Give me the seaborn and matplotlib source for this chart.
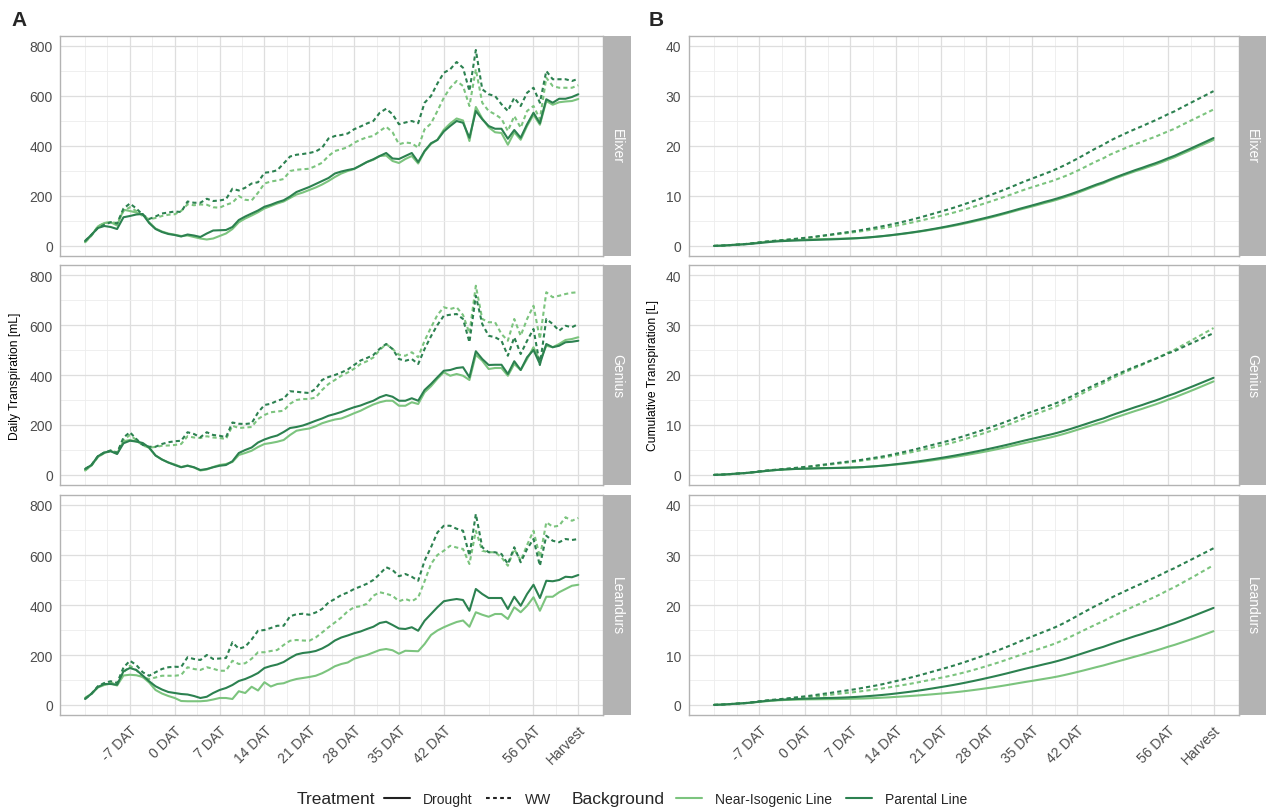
import numpy as np
import pandas as pd
import matplotlib
matplotlib.use("Agg")
import matplotlib.pyplot as plt
import seaborn as sns
from matplotlib.lines import Line2D
from matplotlib.ticker import FixedLocator

sns.set_theme(style="white")
plt.rcParams["font.family"] = ["Liberation Sans", "DejaVu Sans"]

# ---------------- data ----------------
days = list(range(-14, 64))
genotypes = ["Elixer", "Genius", "Leandurs"]
backgrounds = ["Near-Isogenic Line", "Parental Line"]
treatments = ["Drought", "WW"]
tick_days = [-7, 0, 7, 14, 21, 28, 35, 42, 56, 63]
tick_labels = ["-7 DAT", "0 DAT", "7 DAT", "14 DAT", "21 DAT", "28 DAT",
               "35 DAT", "42 DAT", "56 DAT", "Harvest"]
minor_days = [-14, -10.5, -3.5, 3.5, 10.5, 17.5, 24.5, 31.5, 38.5, 49, 59.5]

elixer_parental_drought = [
    20, 45, 72, 80, 76, 68, 115, 120, 126, 128,
    92, 68, 56, 48, 44, 38, 46, 42, 36, 50,
    62, 63, 64, 76, 104, 118, 130, 142, 157, 165,
    175, 183, 198, 216, 226, 236, 248, 260, 272, 290,
    298, 304, 309, 322, 336, 347, 360, 372, 350, 348,
    360, 372, 336, 380, 411, 424, 458, 480, 500, 493,
    433, 540, 507, 480, 469, 469, 429, 464, 433, 487,
    533, 491, 587, 573, 589, 589, 596, 607]
elixer_nil_drought = [
    15, 42, 78, 92, 95, 82, 145, 140, 134, 126,
    95, 70, 58, 50, 45, 40, 42, 36, 30, 26,
    30, 40, 50, 68, 95, 110, 122, 135, 150, 160,
    170, 178, 192, 206, 214, 224, 234, 246, 260, 276,
    290, 300, 308, 322, 336, 345, 360, 362, 340, 332,
    348, 360, 330, 378, 408, 425, 465, 490, 510, 502,
    420, 556, 510, 475, 455, 452, 405, 455, 425, 480,
    525, 485, 580, 565, 575, 578, 580, 588]
elixer_parental_ww = [
    20, 45, 72, 85, 95, 90, 150, 170, 150, 125,
    108, 118, 130, 134, 138, 136, 178, 173, 173, 189,
    180, 182, 187, 229, 222, 233, 250, 255, 293, 296,
    303, 330, 358, 365, 368, 372, 378, 393, 430, 440,
    444, 450, 467, 478, 490, 500, 533, 549, 527, 487,
    494, 500, 491, 573, 600, 650, 693, 707, 736, 713,
    620, 784, 627, 607, 600, 567, 540, 593, 560, 613,
    633, 573, 700, 667, 667, 667, 660, 669]
elixer_nil_ww = [
    15, 42, 78, 92, 95, 92, 140, 155, 140, 120,
    107, 112, 120, 125, 127, 140, 167, 163, 166, 165,
    155, 153, 165, 173, 200, 185, 182, 213, 250, 258,
    262, 268, 300, 305, 307, 309, 320, 333, 360, 380,
    387, 395, 413, 425, 435, 440, 460, 477, 455, 407,
    414, 411, 393, 467, 490, 540, 593, 633, 660, 640,
    560, 707, 573, 540, 527, 509, 460, 520, 473, 540,
    560, 507, 673, 640, 633, 633, 633, 643]

genius_parental_drought = [
    24, 40, 75, 90, 95, 84, 127, 137, 134, 128,
    110, 78, 62, 50, 40, 31, 37, 31, 20, 24,
    31, 37, 40, 55, 88, 100, 110, 130, 142, 151,
    158, 172, 188, 192, 198, 207, 217, 226, 237, 244,
    252, 262, 271, 278, 288, 297, 311, 320, 313, 297,
    297, 307, 297, 340, 364, 391, 417, 420, 428, 431,
    391, 495, 464, 440, 441, 441, 404, 455, 420, 471,
    500, 444, 524, 511, 517, 531, 533, 537]
genius_nil_drought = [
    18, 38, 72, 88, 96, 86, 135, 140, 134, 125,
    108, 78, 62, 50, 42, 32, 38, 30, 18, 22,
    32, 40, 44, 52, 80, 88, 97, 112, 124, 128,
    133, 140, 160, 177, 182, 186, 195, 207, 215, 222,
    226, 236, 247, 257, 270, 282, 291, 297, 297, 277,
    277, 291, 284, 331, 355, 385, 411, 397, 404, 397,
    380, 481, 457, 424, 428, 428, 397, 444, 420, 464,
    511, 457, 517, 511, 524, 540, 544, 551]
genius_parental_ww = [
    24, 40, 75, 90, 98, 88, 150, 171, 144, 120,
    113, 113, 124, 131, 135, 137, 171, 164, 151, 171,
    160, 157, 151, 210, 205, 204, 207, 250, 280, 285,
    297, 305, 335, 333, 330, 328, 345, 380, 392, 400,
    410, 422, 440, 458, 468, 480, 505, 524, 504, 464,
    457, 464, 444, 504, 555, 600, 637, 641, 644, 624,
    531, 717, 604, 557, 551, 537, 477, 551, 484, 537,
    584, 440, 624, 604, 577, 597, 591, 604]
genius_nil_ww = [
    18, 38, 72, 88, 98, 90, 140, 160, 140, 118,
    110, 112, 117, 118, 120, 124, 155, 150, 148, 155,
    150, 148, 144, 197, 188, 190, 192, 224, 240, 251,
    254, 257, 285, 300, 304, 304, 310, 340, 364, 380,
    397, 410, 425, 444, 455, 470, 500, 524, 504, 481,
    477, 491, 471, 537, 590, 640, 671, 664, 671, 640,
    567, 757, 624, 611, 611, 564, 537, 624, 557, 624,
    677, 544, 731, 711, 717, 724, 729, 731]

leandurs_parental_drought = [
    24, 45, 72, 84, 84, 81, 135, 148, 140, 118,
    95, 75, 62, 52, 48, 44, 42, 36, 28, 33,
    48, 60, 68, 80, 96, 104, 115, 128, 148, 156,
    162, 172, 188, 202, 208, 211, 216, 226, 240, 258,
    270, 278, 287, 294, 304, 313, 328, 333, 320, 306,
    304, 311, 297, 337, 364, 391, 415, 420, 424, 420,
    377, 464, 444, 428, 428, 428, 384, 433, 397, 444,
    481, 428, 497, 495, 500, 513, 511, 520]
leandurs_nil_drought = [
    28, 45, 70, 80, 86, 78, 118, 121, 119, 112,
    90, 60, 46, 36, 28, 16, 15, 15, 15, 17,
    22, 28, 28, 24, 55, 48, 73, 58, 91, 74,
    84, 87, 97, 104, 108, 112, 117, 127, 140, 155,
    164, 170, 185, 193, 200, 210, 220, 224, 219, 205,
    217, 216, 215, 244, 280, 298, 311, 322, 332, 338,
    313, 371, 361, 353, 364, 364, 344, 391, 371, 397,
    431, 377, 433, 433, 451, 464, 477, 481]
leandurs_parental_ww = [
    24, 45, 75, 88, 95, 88, 150, 177, 160, 131,
    117, 131, 144, 151, 153, 152, 191, 184, 180, 200,
    184, 186, 188, 251, 225, 233, 262, 297, 300, 308,
    317, 317, 355, 363, 365, 361, 370, 384, 410, 424,
    440, 450, 464, 474, 485, 500, 524, 551, 540, 515,
    524, 513, 497, 577, 631, 690, 717, 717, 705, 697,
    597, 764, 631, 611, 611, 604, 564, 631, 571, 624,
    664, 557, 677, 657, 651, 664, 660, 664]
leandurs_nil_ww = [
    28, 45, 72, 82, 90, 85, 130, 157, 140, 111,
    104, 110, 117, 117, 117, 120, 151, 144, 140, 151,
    145, 137, 137, 177, 164, 167, 185, 211, 211, 216,
    220, 240, 257, 260, 258, 257, 270, 290, 311, 330,
    350, 375, 391, 395, 405, 437, 451, 445, 437, 415,
    424, 415, 430, 495, 564, 600, 617, 637, 630, 624,
    564, 697, 617, 611, 611, 591, 557, 624, 577, 640,
    697, 591, 731, 713, 717, 751, 737, 748]

series = {
    ("Elixer", "Parental Line", "Drought"): elixer_parental_drought,
    ("Elixer", "Near-Isogenic Line", "Drought"): elixer_nil_drought,
    ("Elixer", "Parental Line", "WW"): elixer_parental_ww,
    ("Elixer", "Near-Isogenic Line", "WW"): elixer_nil_ww,
    ("Genius", "Parental Line", "Drought"): genius_parental_drought,
    ("Genius", "Near-Isogenic Line", "Drought"): genius_nil_drought,
    ("Genius", "Parental Line", "WW"): genius_parental_ww,
    ("Genius", "Near-Isogenic Line", "WW"): genius_nil_ww,
    ("Leandurs", "Parental Line", "Drought"): leandurs_parental_drought,
    ("Leandurs", "Near-Isogenic Line", "Drought"): leandurs_nil_drought,
    ("Leandurs", "Parental Line", "WW"): leandurs_parental_ww,
    ("Leandurs", "Near-Isogenic Line", "WW"): leandurs_nil_ww,
}

rows = []
for (g, b, t), vals in series.items():
    for d, v in zip(days, vals):
        rows.append((g, b, t, d, v))
df = pd.DataFrame(rows, columns=["Genotype", "Background", "Treatment", "Day", "Daily"])
df = df.sort_values(["Genotype", "Background", "Treatment", "Day"]).reset_index(drop=True)
df["Cumulative"] = df.groupby(["Genotype", "Background", "Treatment"])["Daily"].cumsum() / 1000.0

# ---------------- style ----------------
palette = {"Near-Isogenic Line": "#7CC47E", "Parental Line": "#2C8150"}
dash_map = {"Drought": "", "WW": (2.0, 1.5)}
W, H = 1266, 812
grey70 = "#B3B3B3"
tick_col = "#4D4D4D"

fig = plt.figure(figsize=(W / 100, H / 100), dpi=100, facecolor="white")

def px_rect(x0, y0, x1, y1):
    return [x0 / W, 1 - y1 / H, (x1 - x0) / W, (y1 - y0) / H]

row_px = [(37, 257), (266, 486), (496, 716)]
cols = [
    dict(panel=(60.4, 603), strip=(603, 630.5), var="Daily", ylim=(-40, 840),
         yt=[0, 200, 400, 600, 800], ym=[100, 300, 500, 700]),
    dict(panel=(689, 1238.5), strip=(1238.5, 1266), var="Cumulative", ylim=(-2, 42),
         yt=[0, 10, 20, 30, 40], ym=[5, 15, 25, 35]),
]

for ci, c in enumerate(cols):
    for ri, g in enumerate(genotypes):
        y0, y1 = row_px[ri]
        ax = fig.add_axes(px_rect(c["panel"][0], y0, c["panel"][1], y1))
        sub = df[df["Genotype"] == g]
        sns.lineplot(data=sub, x="Day", y=c["var"], hue="Background", style="Treatment",
                     hue_order=backgrounds, style_order=treatments, palette=palette,
                     dashes=dash_map, linewidth=1.5, estimator=None, legend=False, ax=ax)
        ax.set_xlim(-17.85, 66.85)
        ax.set_ylim(*c["ylim"])
        ax.xaxis.set_major_locator(FixedLocator(tick_days))
        ax.xaxis.set_minor_locator(FixedLocator(minor_days))
        ax.yaxis.set_major_locator(FixedLocator(c["yt"]))
        ax.yaxis.set_minor_locator(FixedLocator(c["ym"]))
        ax.grid(which="major", color="#DEDEDE", linewidth=0.9)
        ax.grid(which="minor", color="#EDEDED", linewidth=0.6)
        ax.set_axisbelow(True)
        ax.set_facecolor("white")
        for s in ax.spines.values():
            s.set_color(grey70)
            s.set_linewidth(1.0)
        ax.tick_params(which="major", length=3.5, width=0.8, color=grey70,
                       labelsize=10, labelcolor=tick_col, pad=2)
        ax.tick_params(which="minor", length=0)
        ax.set_yticklabels([str(v) for v in c["yt"]])
        ax.set_xlabel("")
        ax.set_ylabel("")
        if ri < 2:
            ax.tick_params(axis="x", which="major", bottom=False, labelbottom=False)
        else:
            ax.set_xticklabels(tick_labels, rotation=45, ha="right", va="top",
                               rotation_mode="anchor")
        # facet strip
        sax = fig.add_axes(px_rect(c["strip"][0], y0, c["strip"][1], y1))
        sax.set_facecolor(grey70)
        sax.set_xticks([])
        sax.set_yticks([])
        for s in sax.spines.values():
            s.set_visible(False)
        sax.text(0.5, 0.5, g, rotation=-90, color="white", ha="center", va="center",
                 fontsize=10, transform=sax.transAxes)

# axis titles and panel tags
fig.text(15 / W, 1 - 376 / H, "Daily Transpiration [mL]", rotation=90,
         ha="center", va="center", fontsize=8.7, color="black")
fig.text(653 / W, 1 - 376 / H, "Cumulative Transpiration [L]", rotation=90,
         ha="center", va="center", fontsize=8.7, color="black")
fig.text(19 / W, 1 - 20 / H, "A", fontsize=15, fontweight="bold", ha="center", va="center")
fig.text(656 / W, 1 - 20 / H, "B", fontsize=15, fontweight="bold", ha="center", va="center")

# legends
ly = 1 - 800 / H
fig.text(297 / W, ly, "Treatment", fontsize=12.5, ha="left", va="center")
h_tr = [Line2D([], [], color="#222222", lw=1.5),
        Line2D([], [], color="#222222", lw=1.5, dashes=(1.8, 1.6))]
leg1 = fig.legend(h_tr, treatments, loc="center left", bbox_to_anchor=(384 / W, ly),
                  ncol=2, frameon=False, fontsize=10, handlelength=1.9,
                  handletextpad=0.9, columnspacing=1.0, borderpad=0, borderaxespad=0)
fig.text(572 / W, ly, "Background", fontsize=12.5, ha="left", va="center")
h_bg = [Line2D([], [], color=palette[b], lw=1.5) for b in backgrounds]
leg2 = fig.legend(h_bg, backgrounds, loc="center left", bbox_to_anchor=(676 / W, ly),
                  ncol=2, frameon=False, fontsize=10, handlelength=1.9,
                  handletextpad=0.9, columnspacing=1.0, borderpad=0, borderaxespad=0)

fig.savefig("out.png", dpi=100, facecolor="white")
